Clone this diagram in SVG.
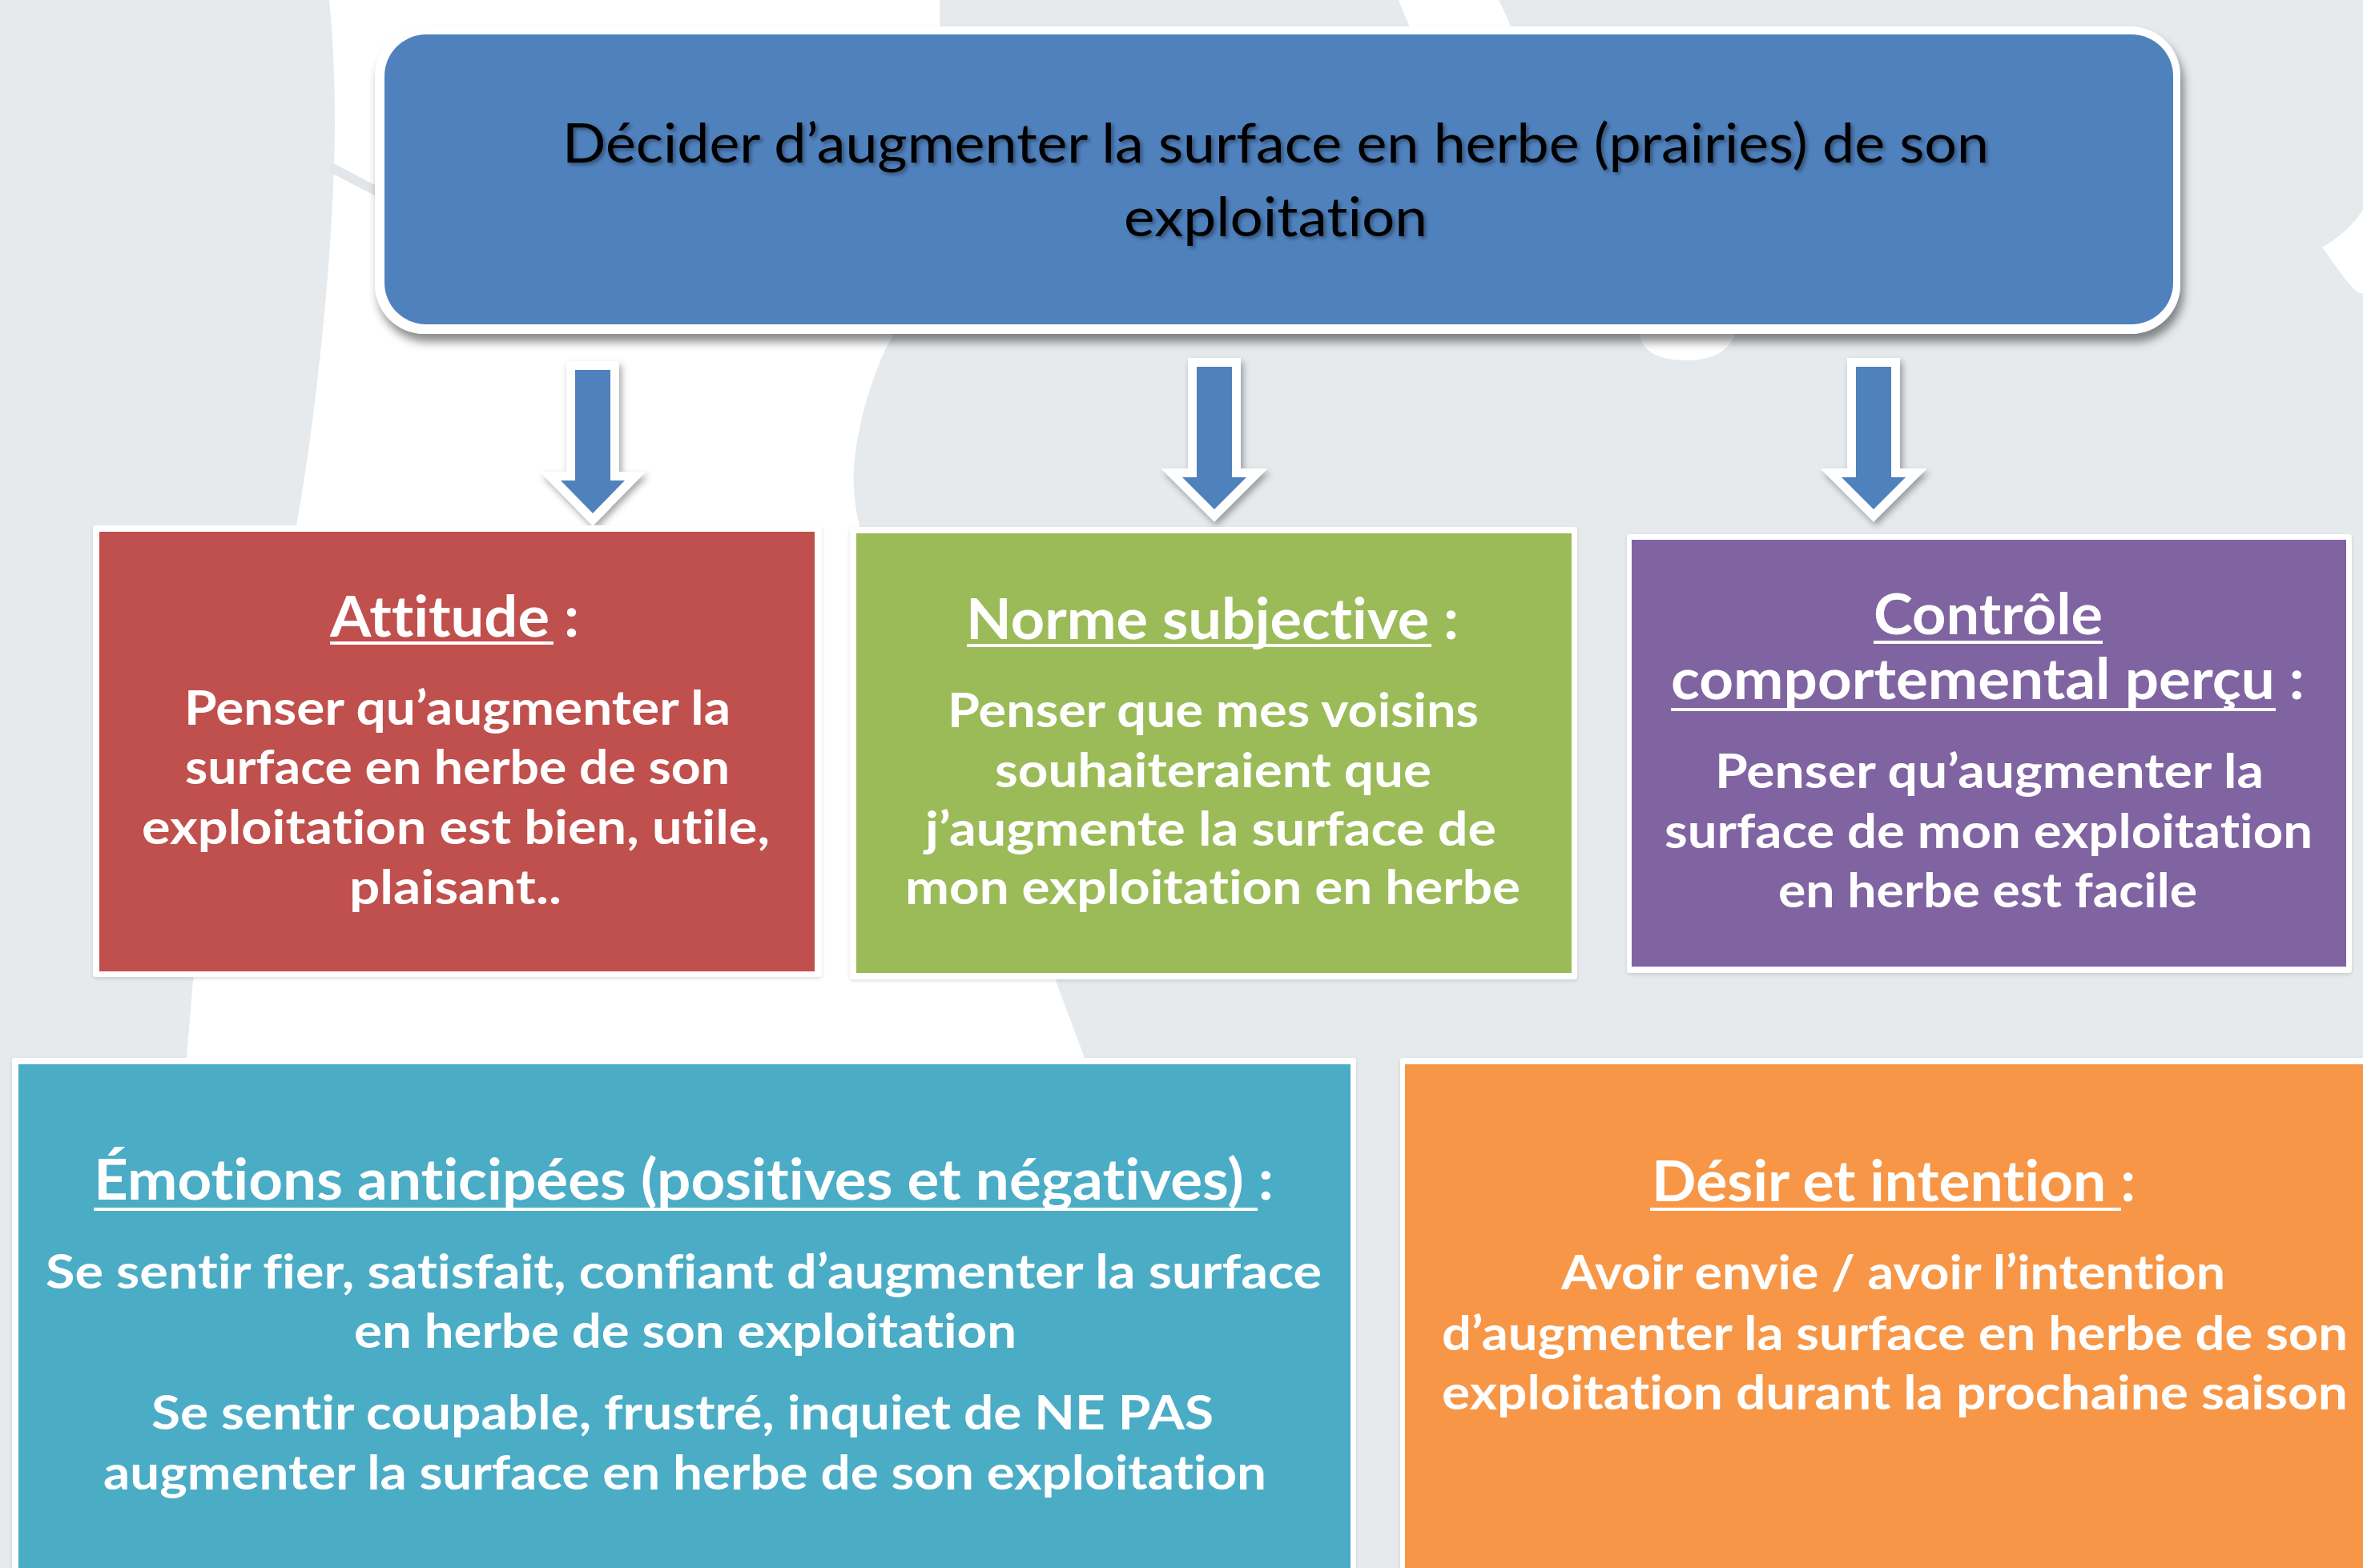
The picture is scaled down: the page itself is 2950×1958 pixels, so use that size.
<svg xmlns="http://www.w3.org/2000/svg" width="2950" height="1958" viewBox="0 0 2950 1958">
<defs>
<style>
text{font-variant-ligatures:none;font-feature-settings:"liga" 0,"clig" 0,"dlig" 0}
.top{font-family:Lato,"Open Sans","Liberation Sans",sans-serif;font-size:68px;fill:#000}
.hd{font-family:Lato,"Open Sans","Liberation Sans",sans-serif;font-weight:700;font-size:71px;fill:#fff}
.bd{font-family:Lato,"Open Sans","Liberation Sans",sans-serif;font-weight:700;font-size:59px;fill:#fff}
.frame{fill:#fff}
.ul{fill:#fff}
.arrow{fill:#4F81BD;stroke:#fff;stroke-width:22;stroke-linejoin:miter;stroke-miterlimit:6;paint-order:stroke}
</style>
<filter id="boxShadow" x="-5%" y="-10%" width="110%" height="130%">
<feDropShadow dx="4" dy="10" stdDeviation="6" flood-color="#000" flood-opacity="0.45"/>
</filter>
<filter id="arrowShadow" x="-50%" y="-20%" width="200%" height="150%">
<feDropShadow dx="3" dy="5" stdDeviation="4" flood-color="#000" flood-opacity="0.35"/>
</filter>
<filter id="textShadow" x="-5%" y="-20%" width="110%" height="150%">
<feDropShadow dx="3" dy="3" stdDeviation="2" flood-color="#000" flood-opacity="0.35"/>
</filter>
<filter id="frameShadow" x="-5%" y="-5%" width="110%" height="110%">
<feDropShadow dx="0" dy="2" stdDeviation="2" flood-color="#000" flood-opacity="0.12"/>
</filter>
</defs>

<g id="background">
<rect x="0" y="0" width="2950" height="1958" fill="#E6EAED"/>
<path d="M411,0 L1173,0 L1173,32 L1115,418 C1085,470 1062,560 1066,610 C1068,640 1072,650 1074,660 L1317,1222 L1354,1321 L1354,1958 L233,1958 L233,1321 L241,1224 L370,656 C395,520 418,300 418,150 C418,80 414,30 411,0 Z" fill="#fff"/>
<path d="M1746,0 L1871,0 C1878,14 1884,26 1888,40 L2166,417 C2158,440 2135,450 2106,450 C2072,450 2050,440 2047,417 L1759,32 Z" fill="#fff"/>
<path d="M2950,262 C2935,285 2915,300 2899,309 C2915,330 2930,355 2945,366 L2950,366 Z" fill="#fff"/>
<line x1="413" y1="209" x2="486" y2="247" stroke="#E2E6EA" stroke-width="12"/>
</g>

<g id="node-decision">
<rect x="468" y="33" width="2254" height="384" rx="62" class="frame" filter="url(#boxShadow)"/>
<rect x="480" y="43" width="2233" height="362" rx="52" fill="#4F81BD"/>
<g filter="url(#textShadow)">
<text class="top" x="702" y="203" textLength="1781" lengthAdjust="spacingAndGlyphs">Décider d’augmenter la surface en herbe (prairies) de son</text>
<text class="top" x="1403" y="295" textLength="379" lengthAdjust="spacingAndGlyphs">exploitation</text>
</g>
</g>

<g id="connectors">
<polygon class="arrow" filter="url(#arrowShadow)" points="718,462 762,462 762,600 780,600 740,641 700,600 718,600"/>
<polygon class="arrow" filter="url(#arrowShadow)" points="1494,458 1538,458 1538,596 1556,596 1516,636 1476,596 1494,596"/>
<polygon class="arrow" filter="url(#arrowShadow)" points="2317,458 2361,458 2361,596 2379,596 2339,636 2299,596 2317,596"/>
</g>

<g id="node-attitude">
<rect x="116" y="656" width="910" height="564" rx="4" class="frame" filter="url(#frameShadow)"/>
<rect x="124" y="664" width="893" height="549" fill="#C0504D"/>
<text class="hd" x="412" y="795" textLength="311" lengthAdjust="spacingAndGlyphs">Attitude :</text>
<rect class="ul" x="412" y="801" width="279" height="4"/>
<text class="bd" x="230" y="905" textLength="682" lengthAdjust="spacingAndGlyphs">Penser qu’augmenter la</text>
<text class="bd" x="231" y="979" textLength="680" lengthAdjust="spacingAndGlyphs">surface en herbe de son</text>
<text class="bd" x="177" y="1054" textLength="784" lengthAdjust="spacingAndGlyphs">exploitation est bien, utile,</text>
<text class="bd" x="436" y="1129" textLength="265" lengthAdjust="spacingAndGlyphs">plaisant..</text>
</g>

<g id="node-norme">
<rect x="1061" y="658" width="908" height="565" rx="4" class="frame" filter="url(#frameShadow)"/>
<rect x="1069" y="666" width="893" height="549" fill="#9BBB59"/>
<text class="hd" x="1206" y="798" textLength="615" lengthAdjust="spacingAndGlyphs">Norme subjective :</text>
<rect class="ul" x="1207" y="804" width="580" height="4"/>
<text class="bd" x="1183" y="908" textLength="663" lengthAdjust="spacingAndGlyphs">Penser que mes voisins</text>
<text class="bd" x="1242" y="983" textLength="545" lengthAdjust="spacingAndGlyphs">souhaiteraient que</text>
<text class="bd" x="1155" y="1056" textLength="713" lengthAdjust="spacingAndGlyphs">j’augmente la surface de</text>
<text class="bd" x="1130" y="1129" textLength="768" lengthAdjust="spacingAndGlyphs">mon exploitation en herbe</text>
</g>

<g id="node-controle">
<rect x="2031" y="667" width="905" height="548" rx="4" class="frame" filter="url(#frameShadow)"/>
<rect x="2037" y="674" width="892" height="533" fill="#8064A2"/>
<text class="hd" x="2339" y="792" textLength="286" lengthAdjust="spacingAndGlyphs">Contrôle</text>
<rect class="ul" x="2339" y="800" width="286" height="4"/>
<text class="hd" x="2086" y="873" textLength="791" lengthAdjust="spacingAndGlyphs">comportemental perçu :</text>
<rect class="ul" x="2086" y="884" width="755" height="4"/>
<text class="bd" x="2141" y="984" textLength="685" lengthAdjust="spacingAndGlyphs">Penser qu’augmenter la</text>
<text class="bd" x="2078" y="1059" textLength="809" lengthAdjust="spacingAndGlyphs">surface de mon exploitation</text>
<text class="bd" x="2220" y="1133" textLength="523" lengthAdjust="spacingAndGlyphs">en herbe est facile</text>
</g>

<g id="node-emotions">
<rect x="15" y="1321" width="1678" height="660" rx="4" class="frame" filter="url(#frameShadow)"/>
<rect x="23" y="1329" width="1663" height="650" fill="#4BACC6"/>
<text class="hd" x="117" y="1498" textLength="1473" lengthAdjust="spacingAndGlyphs">Émotions anticipées (positives et négatives) :</text>
<rect class="ul" x="117" y="1508" width="1453" height="4"/>
<text class="bd" x="57" y="1609" textLength="1593" lengthAdjust="spacingAndGlyphs">Se sentir fier, satisfait, confiant d’augmenter la surface</text>
<text class="bd" x="442" y="1683" textLength="827" lengthAdjust="spacingAndGlyphs">en herbe de son exploitation</text>
<text class="bd" x="189" y="1785" textLength="1326" lengthAdjust="spacingAndGlyphs">Se sentir coupable, frustré, inquiet de NE PAS</text>
<text class="bd" x="129" y="1860" textLength="1452" lengthAdjust="spacingAndGlyphs">augmenter la surface en herbe de son exploitation</text>
</g>

<g id="node-desir">
<rect x="1748" y="1321" width="1240" height="660" rx="4" class="frame" filter="url(#frameShadow)"/>
<rect x="1754" y="1329" width="1230" height="650" fill="#F79646"/>
<text class="hd" x="2062" y="1500" textLength="604" lengthAdjust="spacingAndGlyphs">Désir et intention :</text>
<rect class="ul" x="2060" y="1508" width="588" height="4"/>
<text class="bd" x="1949" y="1610" textLength="829" lengthAdjust="spacingAndGlyphs">Avoir envie / avoir l’intention</text>
<text class="bd" x="1800" y="1686" textLength="1131" lengthAdjust="spacingAndGlyphs">d’augmenter la surface en herbe de son</text>
<text class="bd" x="1800" y="1760" textLength="1131" lengthAdjust="spacingAndGlyphs">exploitation durant la prochaine saison</text>
</g>
</svg>
